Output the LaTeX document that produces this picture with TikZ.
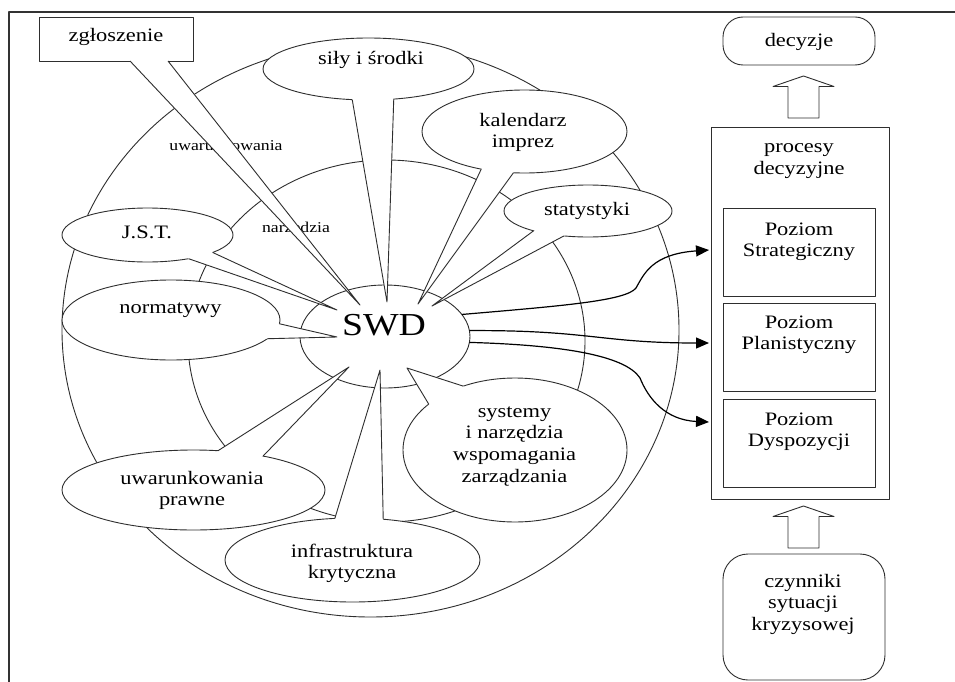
\documentclass[tikz,border=0pt]{standalone}
\usepackage{fontspec}
\setmainfont{Liberation Serif}[FakeStretch=1.18]
\usetikzlibrary{shapes.geometric,arrows.meta,calc}
\newcommand\mlines[1]{\begin{tabular}[t]{@{}c@{}}#1\end{tabular}}
\newcommand\calltail[4]{%
  \fill[white] (#1.center) -- (#1.#2) -- (#4) -- (#1.#3) -- cycle;
  \draw[ln] (#1.#2) -- (#4) -- (#1.#3);}
\newcommand\hollowup[1]{%
  \draw[ln, fill=white] ([xshift=-15.5pt]#1) -- ++(0,-31.5) -- ++(-15,0) -- ++(30.5,-10.5)
    -- ++(30.5,10.5) -- ++(-15,0) -- ++(0,31.5) -- cycle;}
\begin{document}
\begin{tikzpicture}[x=1pt,y=-1pt,line join=round,
  ln/.style={draw=black!82, line width=0.9pt},
  ring/.style={ellipse, ln, inner sep=0pt, outer sep=0pt},
  ell/.style={ellipse, ln, fill=white, inner sep=0pt, outer sep=0pt},
  box/.style={rectangle, ln, fill=white, inner sep=0pt, outer sep=0pt},
  txt/.style={anchor=base, inner sep=0pt, font=\fontsize{19}{21.7}\selectfont},
  small/.style={anchor=base, inner sep=0pt, font=\fontsize{15}{17}\selectfont},
  arr/.style={draw=black, line width=1.2pt, -{Triangle[length=13pt,width=11pt]}}]
\useasboundingbox (0,0) rectangle (955,682);
\fill[white] (0,0) rectangle (955,682);
% frame
\draw[line width=2.5pt, black!80] (9,682) -- (9,12) -- (955,12);
% rings
\node[ring, minimum width=617pt, minimum height=574pt] (outer) at (370.5,330) {};
\node[ring, minimum width=397pt, minimum height=362pt] (middle) at (386.5,341) {};
\node[small] (lblU) at (226,150) {uwarunkowania};
\node[small] (lblN) at (296,232) {narzędzia};
% SWD ellipse
\node[ell, minimum width=170pt, minimum height=103pt] (swd) at (385,336.5) {};
% callouts
\node[box, minimum width=154pt, minimum height=44pt] (zgl) at (116,39) {};
\coordinate (pZgl) at (360,305);
\fill[white] (zgl.center) -- ([xshift=14pt]zgl.south) -- (pZgl) -- ([xshift=52pt]zgl.south) -- cycle;
\draw[ln] ([xshift=14pt]zgl.south) -- (pZgl) -- ([xshift=52pt]zgl.south);

\node[ell, minimum width=211pt, minimum height=62pt] (sily) at (368.5,69) {};
\coordinate (pSily) at (387,302);
\calltail{sily}{242}{310.5}{pSily}

\node[ell, minimum width=205pt, minimum height=83pt] (kal) at (524.5,131.5) {};
\coordinate (pKal) at (418,304);
\calltail{kal}{221}{255}{pKal}

\node[ell, minimum width=168pt, minimum height=52pt] (stat) at (588,211) {};
\coordinate (pStat) at (432,306);
\calltail{stat}{200}{226}{pStat}

\node[ell, minimum width=171pt, minimum height=54pt] (jst) at (147.5,235) {};
\coordinate (pJst) at (337,310);
\calltail{jst}{330}{345.5}{pJst}

\node[ell, minimum width=218pt, minimum height=80pt] (norm) at (171,320) {};
\coordinate (pNorm) at (337,337);
\calltail{norm}{349.5}{358.4}{pNorm}

\node[ell, minimum width=263pt, minimum height=80pt] (uwp) at (193.5,490) {};
\coordinate (pUwp) at (349,367);
\calltail{uwp}{26}{58.5}{pUwp}

\node[ell, minimum width=255pt, minimum height=84pt] (infra) at (352.5,560) {};
\coordinate (pInfra) at (380,370);
\calltail{infra}{53}{113}{pInfra}

\node[ell, minimum width=224pt, minimum height=144pt] (sys) at (515,450) {};
\coordinate (pSys) at (407,368);
\calltail{sys}{129}{152}{pSys}

% texts
\node[txt] (tZgl) at (116,42) {zgłoszenie};
\node[txt] (tSily) at (371,65) {siły i środki};
\node[txt] (tKal) at (523,126) {\mlines{kalendarz\\imprez}};
\node[txt] (tStat) at (587,215) {statystyki};
\node[txt] (tJst) at (147,238) {J.S.T.};
\node[txt] (tNorm) at (170.5,313) {normatywy};
\node[txt] (tUwp) at (192,484) {\mlines{uwarunkowania\\prawne}};
\node[txt] (tInfra) at (352,557) {\mlines{infrastruktura\\krytyczna}};
\node[txt] (tSys) at (514.5,417) {\mlines{systemy\\i narzędzia\\wspomagania\\zarządzania}};
\node[anchor=base, inner sep=0pt, font=\fontsize{32}{36}\selectfont] (tSwd) at (384,335) {SWD};

% right column
\node[box, rounded corners=20pt, minimum width=152pt, minimum height=48pt] (dec) at (799,41) {};
\node[box, minimum width=178pt, minimum height=372pt] (proc) at (800,313) {};
\node[box, minimum width=152pt, minimum height=88pt] (strat) at (799,252) {};
\node[box, minimum width=152pt, minimum height=88pt] (plan) at (799,347) {};
\node[box, minimum width=152pt, minimum height=88pt] (dysp) at (799,443) {};
\node[box, rounded corners=25pt, minimum width=162pt, minimum height=126pt] (czyn) at (804,617) {};
\node[txt] (tDec) at (799,47) {decyzje};
\node[txt] (tProc) at (799,153) {\mlines{procesy\\decyzyjne}};
\node[txt] (tStrat) at (799,235) {\mlines{Poziom\\Strategiczny}};
\node[txt] (tPlan) at (799,328) {\mlines{Poziom\\Planistyczny}};
\node[txt] (tDysp) at (799,425) {\mlines{Poziom\\Dyspozycji}};
\node[txt] (tCzyn) at (803,587) {\mlines{czynniki\\sytuacji\\kryzysowej}};

\coordinate (h1) at (803.5,118);
\coordinate (h2) at (803.5,548);
\hollowup{h1}
\hollowup{h2}

% arrows
\coordinate (e1) at (709,250);
\coordinate (e2) at (709,343);
\coordinate (e3) at (709,422);
\draw[arr] (swd.16) .. controls (560,306) and (626,301) .. (636,288) .. controls (644,274) and (652,254) .. (e1);
\draw[arr] (swd.4) .. controls (590,330) and (600,343) .. (e2);
\draw[arr] (swd.-4) .. controls (560,345) and (625,355) .. (640,378) .. controls (648,398) and (665,420) .. (e3);
\end{tikzpicture}
\end{document}
